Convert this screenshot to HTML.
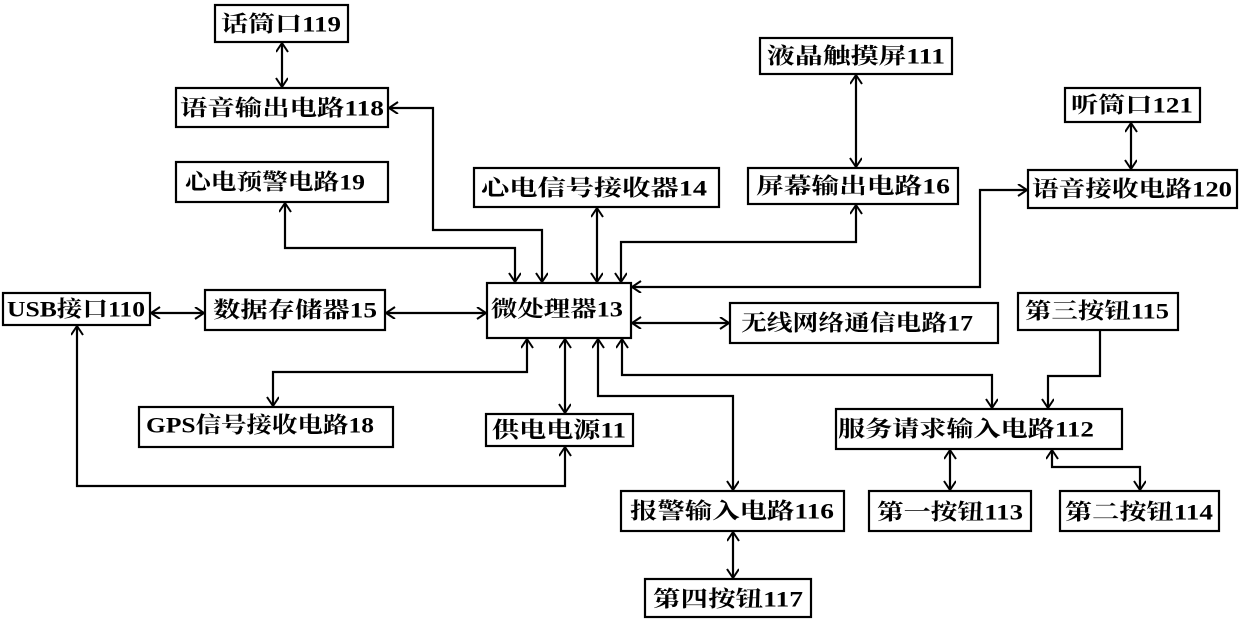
<!DOCTYPE html>
<html><head><meta charset="utf-8"><style>
html,body{margin:0;padding:0;background:#fff;}
svg{display:block}
text{font-family:"Liberation Serif","Noto Serif CJK SC","Noto Sans CJK SC",serif;font-weight:bold;font-size:22px;fill:#000;dominant-baseline:central;text-anchor:middle}
rect{fill:#fff;stroke:#000;stroke-width:2.2}
.l{fill:none;stroke:#000;stroke-width:2.2}
</style></head><body>
<svg width="1240" height="626" viewBox="0 0 1240 626" xmlns="http://www.w3.org/2000/svg">
<defs>
<marker id="a" markerWidth="14" markerHeight="14" refX="10" refY="6" orient="auto-start-reverse" markerUnits="userSpaceOnUse">
<polyline points="1,0 10,6 1,12" fill="none" stroke="#000" stroke-width="2"/>
</marker>
</defs>
<g class="l">
<line x1="282" y1="43" x2="282" y2="87" marker-start="url(#a)" marker-end="url(#a)"/>
<polyline points="389,108 433,108 433,230 542,230 542,282" marker-start="url(#a)" marker-end="url(#a)"/>
<polyline points="285,203 285,248 515,248 515,282" marker-start="url(#a)" marker-end="url(#a)"/>
<line x1="597" y1="208" x2="597" y2="282" marker-start="url(#a)" marker-end="url(#a)"/>
<polyline points="856,205 856,242 621,242 621,282" marker-start="url(#a)" marker-end="url(#a)"/>
<polyline points="1027,190 980,190 980,287 632,287" marker-start="url(#a)" marker-end="url(#a)"/>
<line x1="1131" y1="123" x2="1131" y2="169" marker-start="url(#a)" marker-end="url(#a)"/>
<line x1="856" y1="75" x2="856" y2="167" marker-start="url(#a)" marker-end="url(#a)"/>
<line x1="151" y1="313" x2="204" y2="313" marker-start="url(#a)" marker-end="url(#a)"/>
<line x1="386" y1="313" x2="486" y2="313" marker-start="url(#a)" marker-end="url(#a)"/>
<line x1="632" y1="323" x2="729" y2="323" marker-start="url(#a)" marker-end="url(#a)"/>
<polyline points="527,339 527,372 273,372 273,406" marker-start="url(#a)" marker-end="url(#a)"/>
<line x1="565" y1="339" x2="565" y2="413" marker-start="url(#a)" marker-end="url(#a)"/>
<polyline points="598,339 598,396 733,396 733,490" marker-start="url(#a)" marker-end="url(#a)"/>
<polyline points="622,339 622,375 992,375 992,408" marker-start="url(#a)" marker-end="url(#a)"/>
<polyline points="1100,331 1100,376 1048,376 1048,408" marker-end="url(#a)"/>
<line x1="950" y1="450" x2="950" y2="490" marker-start="url(#a)" marker-end="url(#a)"/>
<polyline points="1052,450 1052,467 1140,467 1140,490" marker-start="url(#a)" marker-end="url(#a)"/>
<line x1="733" y1="532" x2="733" y2="578" marker-start="url(#a)" marker-end="url(#a)"/>
<polyline points="77,326 77,486 565,486 565,447" marker-start="url(#a)" marker-end="url(#a)"/>
</g>
<rect x="215" y="5" width="133" height="37"/><text x="281" y="24" textLength="120" lengthAdjust="spacingAndGlyphs">话筒口119</text>
<rect x="176" y="88" width="212" height="39"/><text x="282" y="108" textLength="204" lengthAdjust="spacingAndGlyphs">语音输出电路118</text>
<rect x="176" y="162" width="212" height="40"/><text x="275" y="182" textLength="180" lengthAdjust="spacingAndGlyphs">心电预警电路19</text>
<rect x="474" y="168" width="245" height="39"/><text x="594" y="188" textLength="226" lengthAdjust="spacingAndGlyphs">心电信号接收器14</text>
<rect x="760" y="38" width="192" height="36"/><text x="856" y="56" textLength="178" lengthAdjust="spacingAndGlyphs">液晶触摸屏111</text>
<rect x="748" y="168" width="210" height="36"/><text x="853" y="186" textLength="194" lengthAdjust="spacingAndGlyphs">屏幕输出电路16</text>
<rect x="1065" y="88" width="135" height="34"/><text x="1132" y="105" textLength="122" lengthAdjust="spacingAndGlyphs">听筒口121</text>
<rect x="1028" y="170" width="209" height="38"/><text x="1132" y="189" textLength="200" lengthAdjust="spacingAndGlyphs">语音接收电路120</text>
<rect x="3" y="293" width="147" height="32"/><text x="76" y="309" textLength="138" lengthAdjust="spacingAndGlyphs">USB接口110</text>
<rect x="205" y="290" width="180" height="40"/><text x="295" y="310" textLength="164" lengthAdjust="spacingAndGlyphs">数据存储器15</text>
<rect x="487" y="283" width="144" height="55"/><text x="557" y="309" textLength="132" lengthAdjust="spacingAndGlyphs">微处理器13</text>
<rect x="730" y="303" width="268" height="40"/><text x="857" y="323" textLength="232" lengthAdjust="spacingAndGlyphs">无线网络通信电路17</text>
<rect x="1018" y="293" width="160" height="37"/><text x="1097" y="311" textLength="144" lengthAdjust="spacingAndGlyphs">第三按钮115</text>
<rect x="139" y="407" width="254" height="40"/><text x="260" y="425" textLength="228" lengthAdjust="spacingAndGlyphs">GPS信号接收电路18</text>
<rect x="486" y="414" width="147" height="32"/><text x="559" y="430" textLength="134" lengthAdjust="spacingAndGlyphs">供电电源11</text>
<rect x="836" y="409" width="286" height="40"/><text x="966" y="429" textLength="256" lengthAdjust="spacingAndGlyphs">服务请求输入电路112</text>
<rect x="621" y="491" width="223" height="40"/><text x="732" y="511" textLength="204" lengthAdjust="spacingAndGlyphs">报警输入电路116</text>
<rect x="869" y="491" width="162" height="40"/><text x="950" y="512" textLength="146" lengthAdjust="spacingAndGlyphs">第一按钮113</text>
<rect x="1060" y="491" width="159" height="40"/><text x="1139" y="512" textLength="148" lengthAdjust="spacingAndGlyphs">第二按钮114</text>
<rect x="645" y="579" width="166" height="38"/><text x="728" y="599" textLength="150" lengthAdjust="spacingAndGlyphs">第四按钮117</text>
</svg>
</body></html>
